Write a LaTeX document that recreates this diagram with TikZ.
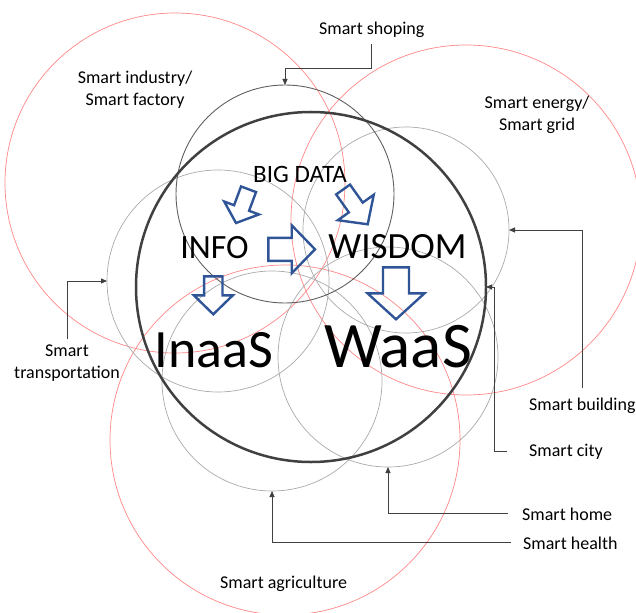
\documentclass[tikz,border=0pt]{standalone}
\usepackage{fontspec}
\setmainfont{Carlito}
\usetikzlibrary{arrows.meta}
\definecolor{redc}{RGB}{255,135,135}
\definecolor{grayc}{RGB}{170,170,170}
\definecolor{darkc}{RGB}{95,95,95}
\definecolor{thickc}{RGB}{64,64,64}
\definecolor{bluec}{RGB}{47,85,151}
\definecolor{linec}{RGB}{64,64,64}
\newcommand\blockarr[7]{\draw[barrow,shift={(#1,#2)},rotate=#3] (0,0) -- ({-#6},{#7/2}) -- ({-#6},{#5/2}) -- ({-#6-#4},{#5/2}) -- ({-#6-#4},{-#5/2}) -- ({-#6},{-#5/2}) -- ({-#6},{-#7/2}) -- cycle;}
\begin{document}
\begin{tikzpicture}[x=1bp,y=-1bp,
  ring/.style={circle,inner sep=0pt,outer sep=0pt},
  redcirc/.style={ring,draw=redc,line width=0.7bp},
  graycirc/.style={ring,draw=grayc,line width=0.7bp},
  shopcirc/.style={ring,draw=darkc,line width=0.9bp},
  citycirc/.style={ring,draw=thickc,line width=2.5bp},
  conn/.style={draw=linec,line width=0.9bp,-{Triangle[length=6bp,width=5bp]}},
  lbl/.style={font=\fontsize{18bp}{22bp}\selectfont,inner sep=0pt,align=center},
  big/.style={inner sep=0pt,anchor=base},
  barrow/.style={draw=bluec,line width=2.4bp,line join=miter}]
\useasboundingbox (0,0) rectangle (636,613);
\clip (0,0) rectangle (636,613);
% red circles
\node[redcirc,minimum size=340bp] (indC) at (175,183) {};
\node[redcirc,minimum size=350bp] (enerC) at (466,220) {};
\node[redcirc,minimum size=350bp] (agriC) at (285,440) {};
% gray circles
\node[graycirc,minimum size=222bp] (transC) at (218,281) {};
\node[graycirc,minimum size=206bp] (buildC) at (406,230) {};
\node[graycirc,minimum size=220bp] (homeC) at (388,357) {};
\node[graycirc,minimum size=220bp] (healthC) at (272,381) {};
% shopping circle
\node[shopcirc,minimum size=218bp] (shopC) at (285,194) {};
% city circle
\node[citycirc,minimum size=350bp] (cityC) at (311,287) {};
% labels
\node[lbl,anchor=base west] (shop) at (319,35) {Smart shoping};
\node[lbl] (ind) at (135,89.5) {Smart industry/\\Smart factory};
\node[lbl] (ener) at (537,114.5) {Smart energy/\\Smart grid};
\node[lbl] (trans) at (67,363) {Smart\\transportation};
\node[lbl,anchor=base west] (build) at (529,410) {Smart building};
\node[lbl,anchor=base west] (city) at (529,456) {Smart city};
\node[lbl,anchor=base west] (home) at (522,520) {Smart home};
\node[lbl,anchor=base west] (health) at (523,549) {Smart health};
\node[lbl,anchor=base west] (agri) at (220,588) {Smart agriculture};
% big words
\node[big,font=\fontsize{25bp}{30bp}\selectfont] (bigdata) at (300,183) {BIG DATA};
\node[big,font=\fontsize{34bp}{40bp}\selectfont] (info) at (214.5,258) {INFO};
\node[big,font=\fontsize{37bp}{42bp}\selectfont] (wisdom) at (397.5,258) {WISDOM};
\node[big,font=\fontsize{54bp}{60bp}\selectfont] (inaas) at (214,367) {InaaS};
\node[big,font=\fontsize{65bp}{70bp}\selectfont] (waas) at (398,367) {WaaS};
% connectors
\draw[conn] ([yshift=-6bp]shop.south) -- ++(0,24) -| (shopC.north);
\draw[conn] ([yshift=6bp]trans.north) |- (transC.west);
\draw[conn] ([yshift=9bp]build.north) |- (buildC.east);
\draw[conn] ([xshift=-22bp]city.west) -- ++(-13,0) |- (cityC.east);
\draw[conn] ([xshift=-14bp]home.west) -| (homeC.south);
\draw[conn] ([xshift=-12bp]health.west) -| (healthC.south);
% block arrows
\blockarr{236}{223}{-110.4}{20}{16}{16}{37}
\blockarr{367.7}{224.3}{-54.7}{22}{17}{20.6}{44}
\blockarr{315}{249.3}{0}{23.4}{23}{23.3}{48}
\blockarr{213.3}{314.3}{-90}{19}{18.3}{19}{39}
\blockarr{396}{319.3}{-90}{26}{26}{26}{57}
\end{tikzpicture}
\end{document}
